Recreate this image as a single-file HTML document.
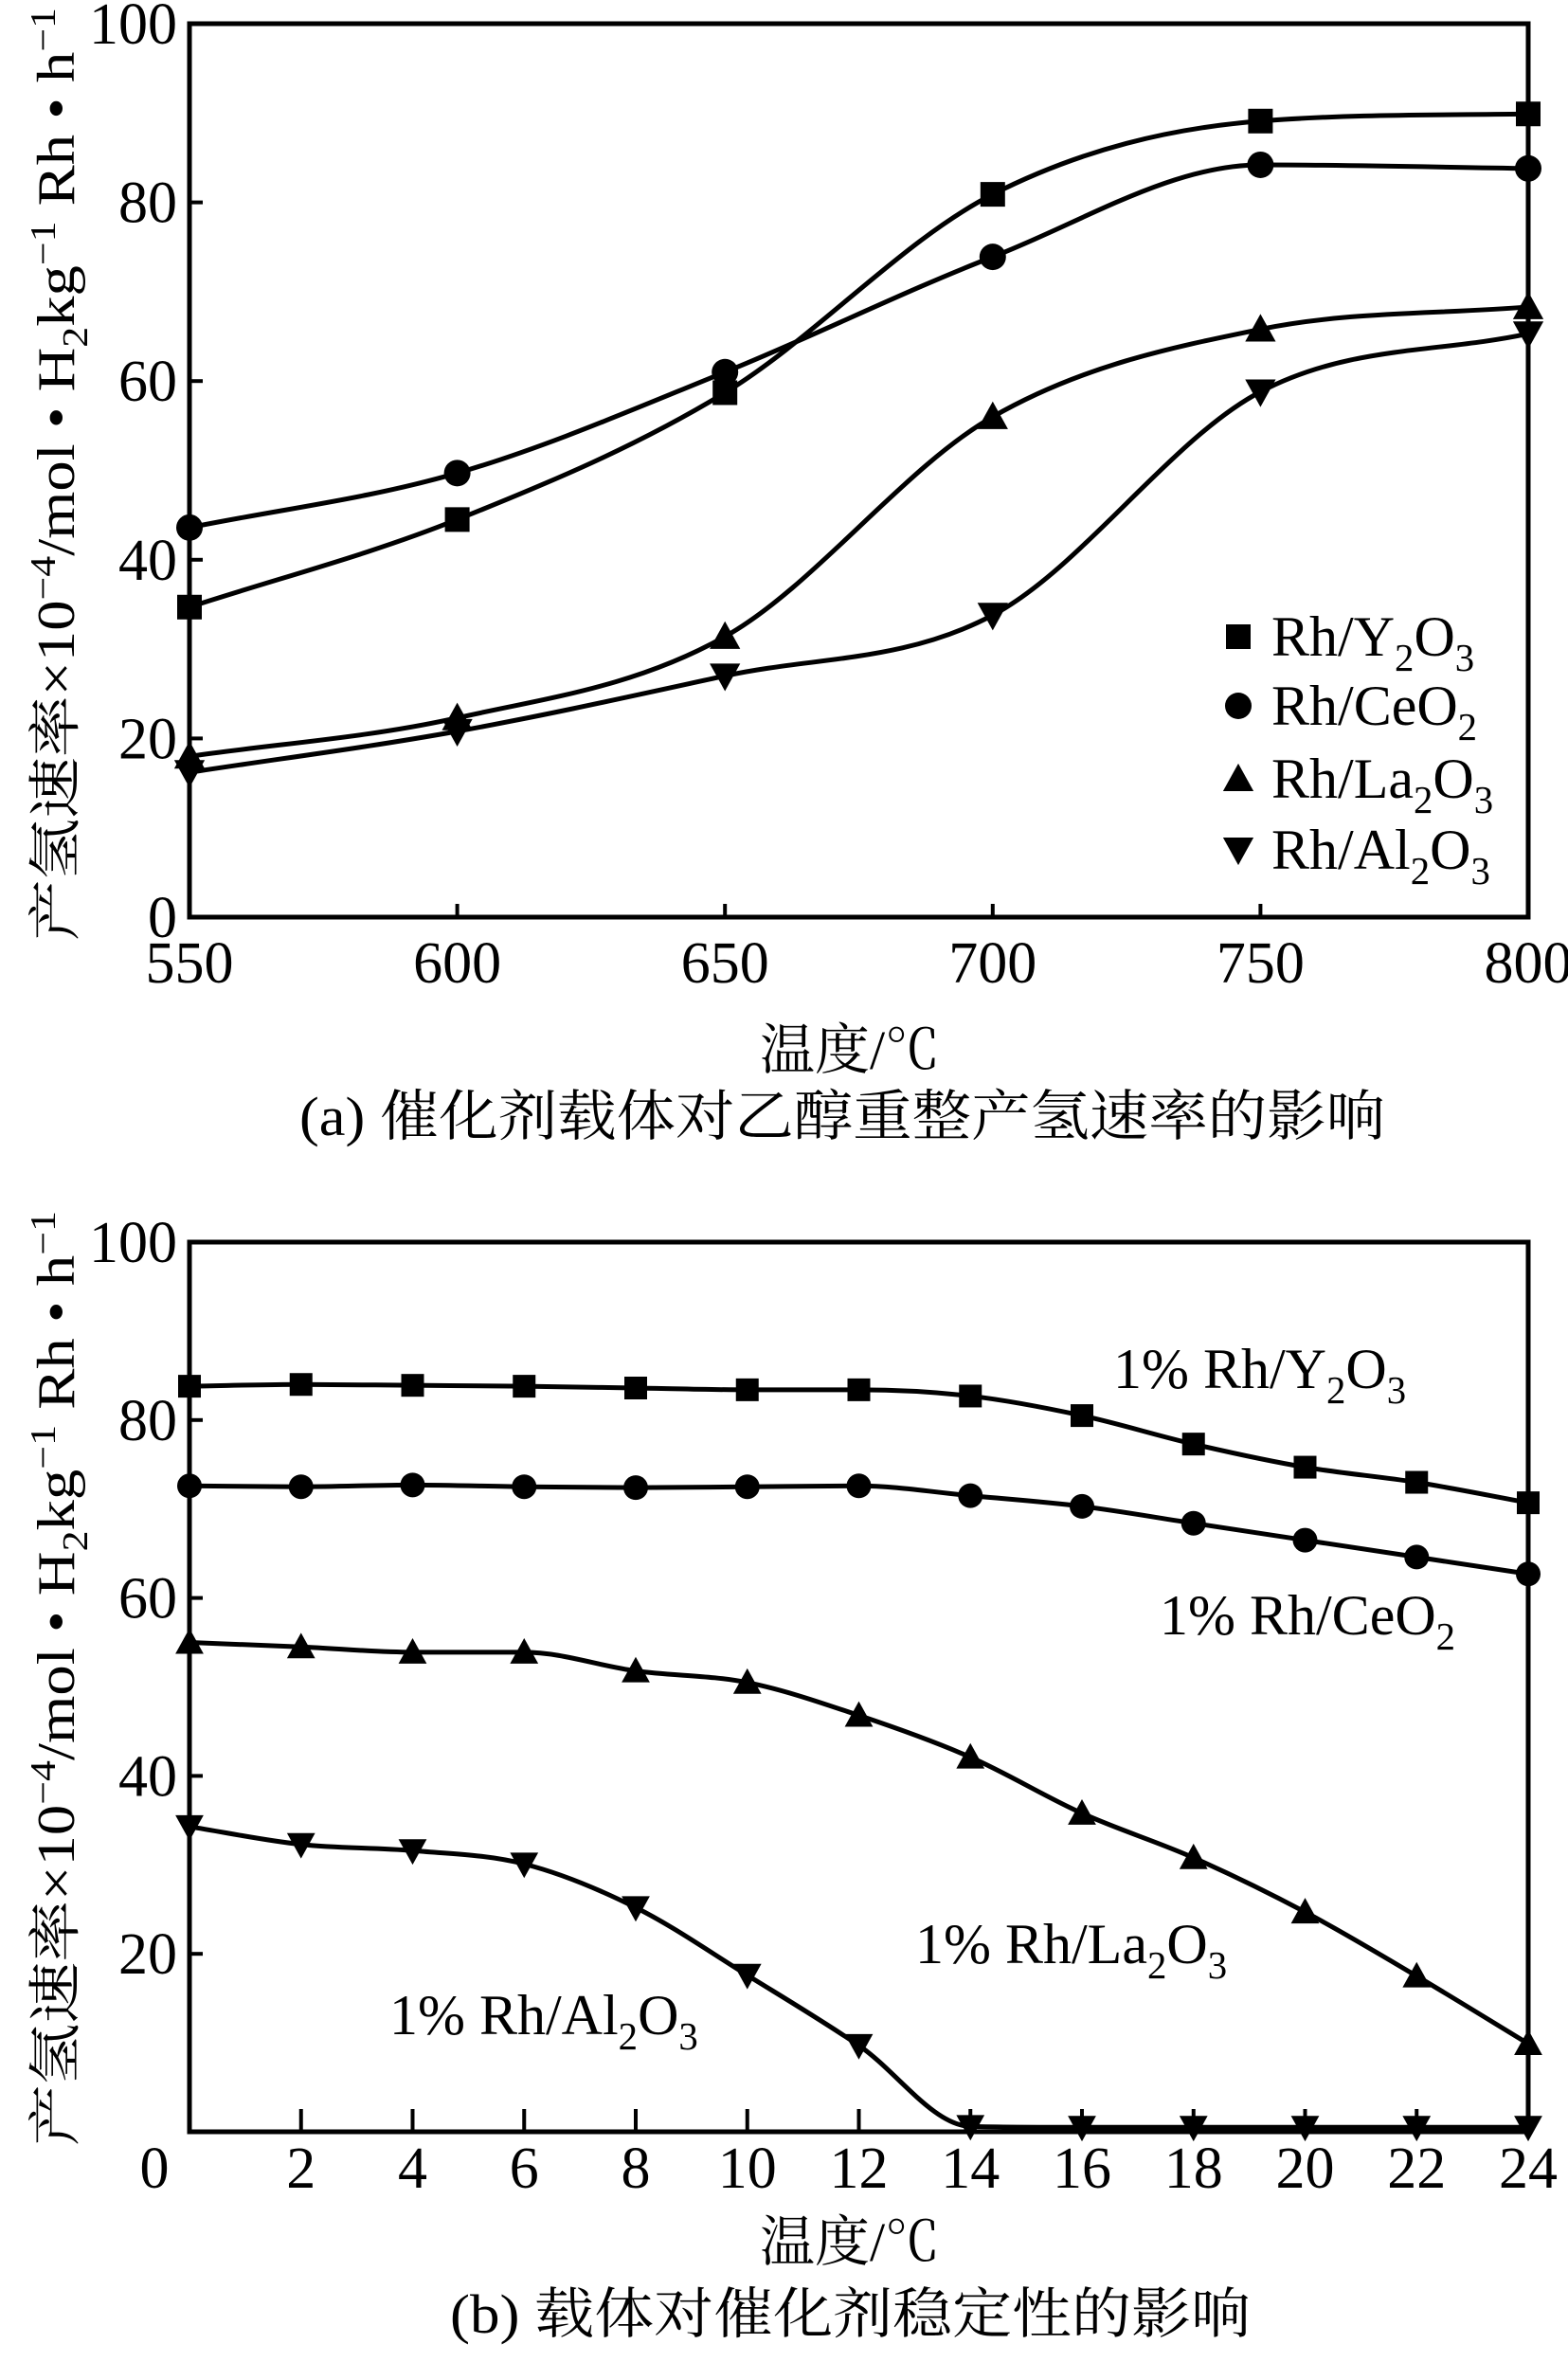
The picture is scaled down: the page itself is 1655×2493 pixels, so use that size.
<!DOCTYPE html>
<html><head><meta charset="utf-8">
<style>
html,body{margin:0;padding:0;background:#fff;}
svg{display:block;}
text{font-family:"Liberation Serif","Noto Serif CJK SC","Noto Sans CJK SC",serif;fill:#000;}
</style></head>
<body>
<svg id="svg" width="1655" height="2493" viewBox="0 0 1655 2493" xmlns="http://www.w3.org/2000/svg">
<g id="chartA"></g>
<g id="chartB"></g>
</svg>
<script>
// ---- Chart (a) data ----
const aTemps = [550, 600, 650, 700, 750, 800];
const aY2O3 = [34.7, 44.5, 58.7, 80.9, 89.1, 89.9];
const aCeO2 = [43.6, 49.7, 61.0, 73.9, 84.2, 83.8];
const aLa2O3 = [18.0, 22.3, 31.4, 56.0, 65.8, 68.3];
const aAl2O3 = [16.2, 20.8, 27.0, 33.8, 58.8, 65.3];
const aXTicks = [550, 600, 650, 700, 750, 800];
const aYTicks = [0, 20, 40, 60, 80, 100];
// ---- Chart (b) data ----
const bTimes = [0, 2, 4, 6, 8, 10, 12, 14, 16, 18, 20, 22, 24];
const bY2O3 = [83.8, 84.0, 83.9, 83.8, 83.6, 83.4, 83.4, 82.7, 80.5, 77.3, 74.7, 73.0, 70.7];
const bCeO2 = [72.6, 72.5, 72.7, 72.5, 72.4, 72.5, 72.6, 71.5, 70.3, 68.4, 66.5, 64.6, 62.7];
const bLa2O3 = [55.0, 54.5, 53.9, 53.9, 51.8, 50.5, 46.8, 42.1, 35.8, 30.8, 24.7, 17.5, 9.9];
const bAl2O3 = [34.3, 32.3, 31.6, 30.1, 25.2, 17.6, 9.7, 0.6, 0.5, 0.5, 0.5, 0.5, 0.5];
const bXTicks = [0, 2, 4, 6, 8, 10, 12, 14, 16, 18, 20, 22, 24];
const bYTicks = [0, 20, 40, 60, 80, 100];

const NS = 'http://www.w3.org/2000/svg';
function mk(parent, tag, attrs) {
  const e = document.createElementNS(NS, tag);
  for (const k in attrs) e.setAttribute(k, attrs[k]);
  parent.appendChild(e);
  return e;
}
function smoothPath(pts) {
  const n = pts.length;
  const dx = [], m = [], tan = [];
  for (let i = 0; i < n - 1; i++) { dx.push(pts[i + 1][0] - pts[i][0]); m.push((pts[i + 1][1] - pts[i][1]) / dx[i]); }
  tan[0] = m[0]; tan[n - 1] = m[n - 2];
  for (let i = 1; i < n - 1; i++) {
    if (m[i - 1] * m[i] <= 0) tan[i] = 0;
    else tan[i] = (m[i - 1] + m[i]) / 2;
  }
  for (let i = 0; i < n - 1; i++) {
    if (m[i] === 0) { tan[i] = 0; tan[i + 1] = 0; continue; }
    const a = tan[i] / m[i], b = tan[i + 1] / m[i], s = a * a + b * b;
    if (s > 9) { const t = 3 / Math.sqrt(s); tan[i] = t * a * m[i]; tan[i + 1] = t * b * m[i]; }
  }
  let d = 'M' + pts[0][0] + ',' + pts[0][1];
  for (let i = 0; i < n - 1; i++) {
    const h = dx[i] / 3;
    d += ' C' + (pts[i][0] + h) + ',' + (pts[i][1] + tan[i] * h) + ' ' + (pts[i + 1][0] - h) + ',' + (pts[i + 1][1] - tan[i + 1] * h) + ' ' + pts[i + 1][0] + ',' + pts[i + 1][1];
  }
  return d;
}
function marker(g, type, x, y, s) {
  let e;
  if (type === 'square') e = mk(g, 'rect', {x: x - s / 2, y: y - s / 2, width: s, height: s, fill: '#000'});
  else if (type === 'circle') e = mk(g, 'circle', {cx: x, cy: y, r: s / 2 + 1, fill: '#000'});
  else if (type === 'up') e = mk(g, 'polygon', {points: (x - s * 0.62) + ',' + (y + s * 0.5) + ' ' + (x + s * 0.62) + ',' + (y + s * 0.5) + ' ' + x + ',' + (y - s * 0.62), fill: '#000'});
  else e = mk(g, 'polygon', {points: (x - s * 0.62) + ',' + (y - s * 0.5) + ' ' + (x + s * 0.62) + ',' + (y - s * 0.5) + ' ' + x + ',' + (y + s * 0.62), fill: '#000'});
  return e;
}
function chemText(g, x, y, parts, size) {
  const t = mk(g, 'text', {x: x, y: y, 'font-size': size});
  parts.forEach(p => {
    const ts = document.createElementNS(NS, 'tspan');
    if (p[1] === 'sub') { ts.setAttribute('font-size', size * 0.68); ts.setAttribute('dy', size * 0.27); }
    if (p[1] === 'back') { ts.setAttribute('dy', -size * 0.27); }
    ts.textContent = p[0];
    t.appendChild(ts);
  });
  return t;
}
function yLabel(g, cx, yBottom, yTop) {
  const t = mk(g, 'text', {x: 0, y: 0, 'font-size': 56, transform: 'translate(' + cx + ',' + yBottom + ') rotate(-90)', textLength: yBottom - yTop, lengthAdjust: 'spacingAndGlyphs'});
  t.innerHTML = '产氢速率×10<tspan dy="-20" font-size="38">−4</tspan><tspan dy="20">/mol • H</tspan><tspan dy="14" font-size="38">2</tspan><tspan dy="-14">kg</tspan><tspan dy="-20" font-size="38">−1</tspan><tspan dy="20"> Rh • h</tspan><tspan dy="-20" font-size="38">−1</tspan>';
  return t;
}

// ================= Chart A =================
(function () {
  const g = document.getElementById('chartA');
  const L = 200, R = 1613, T = 25, B = 968;
  const xs = v => L + (v - 550) / 250 * (R - L);
  const ys = v => B - v / 100 * (B - T);
  const frame = mk(g, 'rect', {x: L, y: T, width: R - L, height: B - T, fill: 'none', stroke: '#000', 'stroke-width': 5});
  
  
  aYTicks.forEach(v => {
    if (v > 0 && v < 100) mk(g, 'line', {x1: L, x2: L + 14, y1: ys(v), y2: ys(v), stroke: '#000', 'stroke-width': 4});
    const t = mk(g, 'text', {x: L - 13, y: ys(v) + 21, 'font-size': 62, 'text-anchor': 'end'});
    t.textContent = v;
    
    
  });
  aXTicks.forEach(v => {
    if (v > 550 && v < 800) mk(g, 'line', {x1: xs(v), x2: xs(v), y1: B, y2: B - 14, stroke: '#000', 'stroke-width': 4});
    const t = mk(g, 'text', {x: xs(v), y: 1037, 'font-size': 62, 'text-anchor': 'middle'});
    t.textContent = v;
    
    
  });
  const series = [[aY2O3, 'square'], [aCeO2, 'circle'], [aLa2O3, 'up'], [aAl2O3, 'down']];
  const names = ['y2o3', 'ceo2', 'la2o3', 'al2o3'];
  series.forEach((s, i) => {
    const pts = aTemps.map((x, j) => [xs(x), ys(s[0][j])]);
    const p = mk(g, 'path', {d: smoothPath(pts), fill: 'none', stroke: '#000', 'stroke-width': 5});
    
    
    pts.forEach(pt => {
      const m = marker(g, s[1], pt[0], pt[1], 26);
      
      
    });
  });
  const lg = mk(g, 'g', {});
  
  
  const legRows = [['square', 692, [['Rh/Y'], ['2', 'sub'], ['O', 'back'], ['3', 'sub']]],
                   ['circle', 765, [['Rh/CeO'], ['2', 'sub']]],
                   ['up', 842, [['Rh/La'], ['2', 'sub'], ['O', 'back'], ['3', 'sub']]],
                   ['down', 917, [['Rh/Al'], ['2', 'sub'], ['O', 'back'], ['3', 'sub']]]];
  legRows.forEach((r, i) => {
    const m = marker(lg, r[0], 1307, r[1] - 20, 26);
    
    
    const t = chemText(lg, 1342, r[1], r[2], 60);
    
    
  });
  const yl = yLabel(g, 78, 993, 8);
  
  
  const xt = mk(g, 'text', {x: 897, y: 1128, 'font-size': 58, 'text-anchor': 'middle'});
  xt.textContent = '温度/℃';
  
  
  const cap = mk(g, 'text', {x: 316, y: 1198, 'font-size': 58, textLength: 1146, lengthAdjust: 'spacingAndGlyphs'});
  cap.textContent = '(a) 催化剂载体对乙醇重整产氢速率的影响';
  
  
})();

// ================= Chart B =================
(function () {
  const g = document.getElementById('chartB');
  const L = 200, R = 1613, T = 1311, B = 2250;
  const xs = v => L + v / 24 * (R - L);
  const ys = v => B - v / 100 * (B - T);
  const frame = mk(g, 'rect', {x: L, y: T, width: R - L, height: B - T, fill: 'none', stroke: '#000', 'stroke-width': 5});
  
  
  bYTicks.forEach(v => {
    if (v > 0 && v < 100) mk(g, 'line', {x1: L, x2: L + 14, y1: ys(v), y2: ys(v), stroke: '#000', 'stroke-width': 4});
    if (v === 0) return;
    const t = mk(g, 'text', {x: L - 13, y: ys(v) + 21, 'font-size': 62, 'text-anchor': 'end'});
    t.textContent = v;
    
    
  });
  bXTicks.forEach(v => {
    if (v > 0 && v < 24) mk(g, 'line', {x1: xs(v), x2: xs(v), y1: B, y2: B - 24, stroke: '#000', 'stroke-width': 4});
    const t = mk(g, 'text', {x: v === 0 ? 163 : xs(v), y: 2309, 'font-size': 62, 'text-anchor': 'middle'});
    t.textContent = v;
    
    
  });
  const series = [[bY2O3, 'square'], [bCeO2, 'circle'], [bLa2O3, 'up'], [bAl2O3, 'down']];
  const names = ['y2o3', 'ceo2', 'la2o3', 'al2o3'];
  series.forEach((s, i) => {
    const pts = bTimes.map((x, j) => [xs(x), ys(s[0][j])]);
    const p = mk(g, 'path', {d: smoothPath(pts), fill: 'none', stroke: '#000', 'stroke-width': 5});
    
    
    pts.forEach(pt => {
      const m = marker(g, s[1], pt[0], pt[1], 24);
      
      
    });
  });
  const labels = [[1175, 1465, [['1% Rh/Y'], ['2', 'sub'], ['O', 'back'], ['3', 'sub']]],
                  [1224, 1725, [['1% Rh/CeO'], ['2', 'sub']]],
                  [966, 2072, [['1% Rh/La'], ['2', 'sub'], ['O', 'back'], ['3', 'sub']]],
                  [411, 2147, [['1% Rh/Al'], ['2', 'sub'], ['O', 'back'], ['3', 'sub']]]];
  labels.forEach((l, i) => {
    const t = chemText(g, l[0], l[1], l[2], 60);
    
    
  });
  const yl = yLabel(g, 78, 2265, 1278);
  
  
  const xt = mk(g, 'text', {x: 897, y: 2386, 'font-size': 58, 'text-anchor': 'middle'});
  xt.textContent = '温度/℃';
  
  
  const cap = mk(g, 'text', {x: 475, y: 2462, 'font-size': 58, textLength: 845, lengthAdjust: 'spacingAndGlyphs'});
  cap.textContent = '(b) 载体对催化剂稳定性的影响';
  
  
})();
</script>
</body></html>
